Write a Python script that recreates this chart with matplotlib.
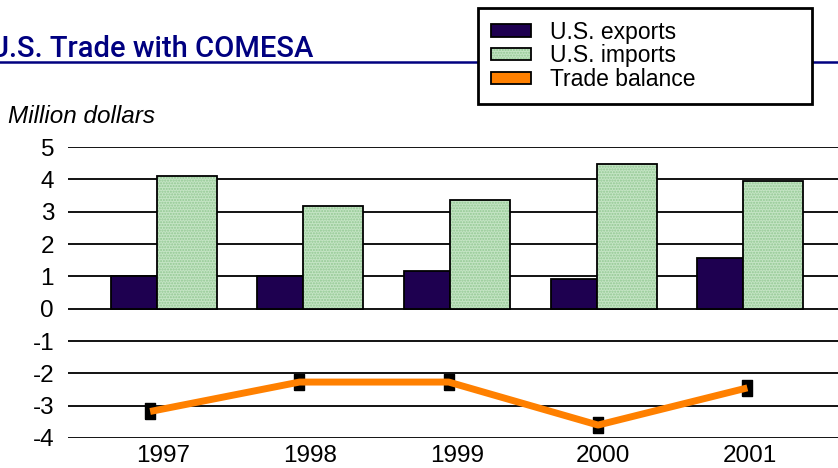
import matplotlib

matplotlib.use("Agg")
import matplotlib.pyplot as plt
import numpy as np
from matplotlib.patches import Patch
from matplotlib.legend_handler import HandlerTuple

# --- data (million dollars) ---
years = ["1997", "1998", "1999", "2000", "2001"]
exports = [1.0, 1.0, 1.15, 0.93, 1.58]
imports = [4.1, 3.18, 3.37, 4.48, 3.96]
balance = [-3.18, -2.27, -2.27, -3.6, -2.45]
yticks = [5, 4, 3, 2, 1, 0, -1, -2, -3, -4]

NAVY = "#000080"
EXP_COLOR = "#1e0050"
IMP_COLOR = "#c4e4c4"
IMP_DOTS = "#92c892"
BAL_COLOR = "#ff8000"

plt.rcParams["font.family"] = ["Liberation Sans", "DejaVu Sans"]
plt.rcParams["hatch.color"] = IMP_DOTS
plt.rcParams["hatch.linewidth"] = 1.0

W, H = 838, 468
fig = plt.figure(figsize=(W / 100, H / 100), dpi=100)
ax = fig.add_axes([68 / W, 1 - 438 / H, 1 - 68 / W, 291 / H])

x = np.arange(len(years))

# bars
ax.bar(x - 0.36, exports, width=0.314, align="edge",
       color=EXP_COLOR, edgecolor="black", linewidth=1.3, zorder=3)
imp_fill = ax.bar(x - 0.046, imports, width=0.41, align="edge",
                  color=IMP_COLOR, hatch="......", zorder=3)
imp_edge = ax.bar(x - 0.046, imports, width=0.41, align="edge",
                  fill=False, edgecolor="black", linewidth=1.3, zorder=4)

# trade balance line (markers sit a bit left of the group centres)
line_x = x * 1.018 - 0.09
ax.plot(line_x, balance, color=BAL_COLOR, lw=5, zorder=6, solid_capstyle="butt")
marker = [(-0.57, -1), (0.57, -1), (0.57, 1), (-0.57, 1), (-0.57, -1)]
ax.plot(line_x, balance, ls="none", marker=marker, ms=12, color="black", zorder=5)

ax.set_xlim(-0.65, 4.6)
ax.set_ylim(-4, 5)
ax.set_yticks(yticks)
ax.set_yticklabels([str(v) for v in yticks])
ax.set_xticks(x)
ax.set_xticklabels(years)
ax.tick_params(axis="both", length=0, labelsize=17.5)
ax.tick_params(axis="y", pad=10)
ax.tick_params(axis="x", pad=5)
ax.yaxis.grid(True, color="black", lw=1.3, zorder=1)
ax.set_axisbelow(True)
for s in ax.spines.values():
    s.set_visible(False)

# title + underline
fig.text(-10 / W, 1 - 57 / H, "U.S. Trade with COMESA", color=NAVY, fontsize=21,
         family=["Roboto", "Liberation Sans"], weight="medium",
         ha="left", va="baseline")
fig.add_artist(plt.Line2D([0, 1], [1 - 62 / H, 1 - 62 / H], color=NAVY, lw=1.8,
                          transform=fig.transFigure))

fig.text(8 / W, 1 - 123 / H, "Million dollars", fontsize=17.5, style="italic",
         ha="left", va="baseline")

# legend
handles = [
    Patch(facecolor=EXP_COLOR, edgecolor="black", lw=1.3),
    (imp_fill.patches[0], imp_edge.patches[0]),
    Patch(facecolor=BAL_COLOR, edgecolor="black", lw=1.3),
]
labels = ["U.S. exports", "U.S. imports", "Trade balance"]
leg = fig.legend(handles, labels, loc="upper left",
                 bbox_to_anchor=(478 / W, 1 - 8 / H, 334 / W, 0), mode="expand",
                 fontsize=16.5, handlelength=1.75, handleheight=0.45,
                 handletextpad=0.85, labelspacing=0.03, borderpad=0.55,
                 borderaxespad=0, fancybox=False, framealpha=1,
                 edgecolor="black", handler_map={tuple: HandlerTuple(ndivide=1, pad=0)})
leg.get_frame().set_linewidth(2)

fig.savefig("out.png", dpi=100)
